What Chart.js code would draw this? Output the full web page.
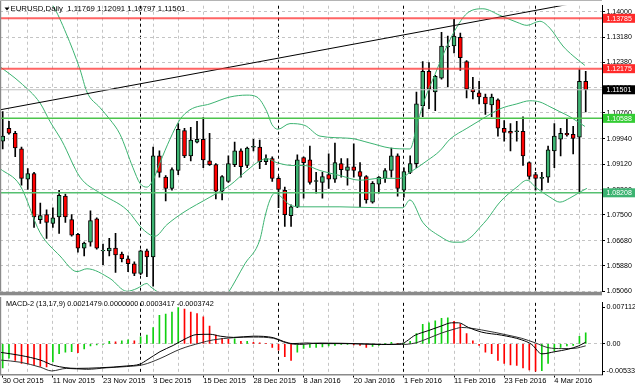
<!DOCTYPE html>
<html>
<head>
<meta charset="utf-8">
<script src="https://cdn.jsdelivr.net/npm/chart.js@4.4.1/dist/chart.umd.min.js"></script>
<style>
  html, body { margin: 0; padding: 0; background: #fff; }
  #wrap { position: relative; width: 635px; height: 391px; overflow: hidden; background: #fff; }
  #priceChart { position: absolute; left: 0; top: 0; }
  #macdChart { position: absolute; left: 0; top: 297px; }
</style>
</head>
<body>
<div id="wrap">
  <canvas id="priceChart" width="635" height="297"></canvas>
  <canvas id="macdChart" width="635" height="94"></canvas>
</div>
<script>
// EURUSD daily, 30 Oct 2015 .. 11 Mar 2016 (bar index 0..93)
const opens = [
  1.0986, 1.1027, 1.1011, 1.0961, 1.0864, 1.0882, 1.0735, 1.0751, 1.0723, 1.0744,
  1.0810, 1.0735, 1.0688, 1.0644, 1.0663, 1.0738, 1.0635, 1.0635, 1.0644, 1.0625,
  1.0610, 1.0594, 1.0563, 1.0635, 1.0616, 1.0939, 1.0871, 1.0835, 1.0892, 1.1020,
  1.0939, 1.0983, 1.0992, 1.0923, 1.0911, 1.0826, 1.0857, 1.0911, 1.0955, 1.0908,
  1.0967, 1.0967, 1.0920, 1.0930, 1.0867, 1.0829, 1.0748, 1.0776, 1.0933, 1.0926,
  1.0857, 1.0854, 1.0879, 1.0864, 1.0914, 1.0892, 1.0904, 1.0889, 1.0873, 1.0791,
  1.0848, 1.0867, 1.0892, 1.0939, 1.0829, 1.0886, 1.0914, 1.1099, 1.1209, 1.1143,
  1.1187, 1.1287, 1.1290, 1.1318, 1.1240, 1.1152, 1.1140, 1.1127, 1.1102, 1.1118,
  1.1027, 1.1017, 1.1016, 1.1017, 1.0917, 1.0879, 1.0867, 1.0871, 1.0955, 1.0992,
  1.1011, 1.1008, 1.0999, 1.11769
];
const highs = [
  1.1080, 1.1049, 1.1017, 1.0967, 1.0898, 1.0886, 1.0788, 1.0766, 1.0773, 1.0829,
  1.0817, 1.0751, 1.0691, 1.0663, 1.0763, 1.0741, 1.0657, 1.0675, 1.0691, 1.0631,
  1.0619, 1.0600, 1.0638, 1.0641, 1.0967, 1.0955, 1.0876, 1.0901, 1.1042, 1.1027,
  1.1030, 1.1049, 1.1061, 1.1011, 1.0914, 1.0876, 1.0939, 1.0983, 1.0961, 1.0967,
  1.0992, 1.0989, 1.0942, 1.0936, 1.0873, 1.0839, 1.0782, 1.0942, 1.0936, 1.0970,
  1.0886, 1.0886, 1.0945, 1.0980, 1.0930, 1.0930, 1.0977, 1.0917, 1.0876, 1.0857,
  1.0873, 1.0898, 1.0964, 1.0945, 1.0901, 1.0939, 1.1143, 1.1240, 1.1237, 1.1196,
  1.1334, 1.1322, 1.1375, 1.1331, 1.1243, 1.1190, 1.1177, 1.1136, 1.1136, 1.1121,
  1.1052, 1.1042, 1.1049, 1.1064, 1.0920, 1.0886, 1.0886, 1.0970, 1.1042, 1.1027,
  1.1058, 1.1033, 1.1215, 1.12091
];
const lows = [
  1.0961, 1.1008, 1.0936, 1.0845, 1.0832, 1.0710, 1.0723, 1.0675, 1.0710, 1.0691,
  1.0726, 1.0682, 1.0631, 1.0619, 1.0650, 1.0641, 1.0591, 1.0619, 1.0566, 1.0600,
  1.0569, 1.0556, 1.0559, 1.0553, 1.0522, 1.0871, 1.0795, 1.0829, 1.0879, 1.0933,
  1.0923, 1.0980, 1.0901, 1.0908, 1.0801, 1.0798, 1.0854, 1.0904, 1.0871, 1.0901,
  1.0955, 1.0898, 1.0911, 1.0857, 1.0773, 1.0713, 1.0713, 1.0773, 1.0804, 1.0848,
  1.0820, 1.0804, 1.0835, 1.0854, 1.0871, 1.0845, 1.0871, 1.0776, 1.0788, 1.0788,
  1.0820, 1.0854, 1.0871, 1.0810, 1.0807, 1.0882, 1.0901, 1.1064, 1.1090, 1.1083,
  1.1184, 1.1159, 1.1268, 1.1212, 1.1124, 1.1121, 1.1105, 1.1071, 1.1064, 1.1002,
  1.0986, 1.0955, 1.0986, 1.0908, 1.0864, 1.0829, 1.0829, 1.0854, 1.0901, 1.0939,
  1.1002, 1.0945, 1.0820, 1.10797
];
const closes = [
  1.1002, 1.1011, 1.0964, 1.0867, 1.0882, 1.0744, 1.0748, 1.0726, 1.0741, 1.0813,
  1.0744, 1.0685, 1.0644, 1.0660, 1.0732, 1.0644, 1.0637, 1.0644, 1.0622, 1.0610,
  1.0594, 1.0563, 1.0635, 1.0616, 1.0939, 1.0886, 1.0835, 1.0895, 1.1024, 1.0939,
  1.0989, 1.0992, 1.0926, 1.0911, 1.0826, 1.0873, 1.0914, 1.0955, 1.0904, 1.0964,
  1.0969, 1.0920, 1.0930, 1.0867, 1.0832, 1.0751, 1.0776, 1.0926, 1.0917, 1.0854,
  1.0860, 1.0873, 1.0864, 1.0917, 1.0895, 1.0904, 1.0892, 1.0873, 1.0798, 1.0851,
  1.0871, 1.0892, 1.0939, 1.0835, 1.0889, 1.0914, 1.1105, 1.1209, 1.1152, 1.1193,
  1.1290, 1.1290, 1.1322, 1.1253, 1.1152, 1.1143, 1.1127, 1.1105, 1.1127, 1.1027,
  1.1014, 1.1011, 1.1019, 1.0939, 1.0873, 1.0867, 1.0870, 1.0958, 1.1002, 1.1011,
  1.1006, 1.0995, 1.1177, 1.11501
];

// Bollinger bands, read at the bar positions where the curves could be traced
const upperBars = [-0.43, 4.04, 8.02, 10.1, 12.33, 13.44, 15.52, 17.11, 18.71, 20.78, 21.9, 23.01, 23.97, 25.09, 26.68, 28.28, 29.87, 33.06, 36.25, 38.96, 40.56, 42.15, 42.95, 43.91, 45.82, 48.21, 50.61, 55.39, 58.58, 61.77, 64.96, 66.24, 67.35, 68.95, 70.54, 72.14, 74.05, 76.6, 79.31, 82.02, 83.62, 85.69, 87.29, 89.36, 90.96, 92.87];
const upperBand = [1.1582, 1.1504, 1.1419, 1.1331, 1.1215, 1.1143, 1.1093, 1.1055, 1.1008, 1.0901, 1.0851, 1.0839, 1.0861, 1.0917, 1.0992, 1.1055, 1.1086, 1.1105, 1.1127, 1.1133, 1.1127, 1.1080, 1.1039, 1.1024, 1.1042, 1.1036, 1.1002, 1.0995, 1.0980, 1.0964, 1.0961, 1.1049, 1.1121, 1.1199, 1.1275, 1.1340, 1.1394, 1.1409, 1.1388, 1.1366, 1.1356, 1.1369, 1.1347, 1.1290, 1.1259, 1.1228];
const middleBars = [-0.43, 2.76, 5.95, 7.54, 9.46, 12.33, 15.52, 19.82, 22.38, 24.29, 26.2, 28.75, 33.06, 36.25, 38.96, 41.04, 42.15, 43.75, 46.3, 48.21, 50.61, 53.8, 56.99, 60.18, 63.37, 64.96, 67.67, 69.74, 71.34, 74.05, 76.6, 79.31, 82.02, 84.1, 85.69, 87.29, 88.88, 90.48, 92.87];
const middleBand = [1.1224, 1.1174, 1.1108, 1.1049, 1.0986, 1.0871, 1.0820, 1.0766, 1.0704, 1.0682, 1.0719, 1.0757, 1.0807, 1.0845, 1.0892, 1.0923, 1.0930, 1.0917, 1.0908, 1.0908, 1.0892, 1.0876, 1.0861, 1.0867, 1.0867, 1.0886, 1.0923, 1.0955, 1.0992, 1.1027, 1.1058, 1.1089, 1.1105, 1.1115, 1.1111, 1.1096, 1.1080, 1.1064, 1.1033];
const lowerBars = [-0.43, 2.76, 5.95, 9.14, 11.85, 13.44, 17.11, 19.82, 21.42, 23.01, 23.49, 26.2, 29.87, 33.06, 35.93, 38.64, 41.04, 41.83, 42.63, 43.43, 45.82, 47.42, 53.8, 60.18, 63.84, 64.96, 67.03, 69.74, 71.82, 73.25, 74.85, 76.12, 77.24, 79.31, 82.02, 83.62, 85.22, 87.29, 88.88, 90.48, 92.08, 93.19];
const lowerBand = [1.0898, 1.0845, 1.0694, 1.0619, 1.0569, 1.0578, 1.0547, 1.0506, 1.0515, 1.0531, 1.0522, 1.0484, 1.0428, 1.0428, 1.0500, 1.0594, 1.0672, 1.0744, 1.0798, 1.0820, 1.0782, 1.0776, 1.0776, 1.0773, 1.0773, 1.0798, 1.0726, 1.0682, 1.0663, 1.0663, 1.0682, 1.0710, 1.0735, 1.0791, 1.0839, 1.0861, 1.0835, 1.0807, 1.0791, 1.0804, 1.0823, 1.0835];

// horizontal levels and trend line
const levelValues = [1.13785, 1.12175, 1.11501, 1.10588, 1.08208];
const trendBars = [-0.43, 95];
const trendPrices = [1.1086, 1.1441];

// MACD-2 (13,17,9)
const macdHist = [
  -0.0047, -0.0028, -0.0032, -0.0038, -0.0039, -0.0041, -0.0044, -0.0045, -0.0035, -0.0019,
  -0.0016, -0.0015, -0.0017, -0.0010, -0.0004, -0.0002, -0.0001, 0.0005, 0.0004, 0.0006,
  0.0008, 0.0006, 0.0014, 0.0017, 0.0032, 0.0056, 0.0058, 0.0062, 0.007112, 0.0068,
  0.0062, 0.0059, 0.0053, 0.0035, 0.0017, 0.0011, 0.0009, 0.0010, 0.0005, 0.0005,
  0.0003, 0.0002, 0.0001, -0.0007, -0.0012, -0.0025, -0.0032, -0.0016, -0.0009, -0.0007,
  -0.0007, -0.0006, -0.0004, -0.0003, -0.0001, -0.0001, -0.0002, -0.0003, -0.0007, -0.0005,
  -0.0003, 0.0001, 0.0003, 0.0001, 0.0001, 0.0005, 0.0020, 0.0038, 0.0041, 0.0045,
  0.0050, 0.0051, 0.0044, 0.0038, 0.0020, 0.0006, -0.0003, -0.0016, -0.0019, -0.0032,
  -0.0038, -0.0041, -0.0042, -0.0047, -0.0051, -0.005334, -0.0052, -0.0038, -0.0013, -0.0007,
  -0.0004, -0.0003, 0.0015, 0.0021479
];
const macdBars = [-0.4, 2.8, 6.0, 8.1, 11.8, 15.5, 19.8, 21.9, 23.0, 25.1, 27.2, 29.3, 30.9, 33.1, 34.7, 36.8, 40.0, 43.2, 44.8, 46.3, 48.5, 50.6, 55.1, 60.4, 63.6, 65.8, 67.9, 70.0, 71.6, 72.7, 74.3, 76.4, 79.6, 82.8, 84.4, 86.0, 88.1, 90.2, 91.8, 93];
const macdMain = [-0.00164, -0.00224, -0.00315, -0.00418, -0.00478, -0.00466, -0.00430, -0.00394, -0.00315, -0.00151, -0.00030, 0.00109, 0.00182, 0.00188, 0.00151, 0.00127, 0.00151, 0.00121, 0.00048, 0.00006, 0.00018, 0.00006, 0.00006, -0.00012, 0.00006, 0.00170, 0.00260, 0.00351, 0.00412, 0.00412, 0.00321, 0.00230, 0.00170, 0.00079, -0.00012, -0.00194, -0.00151, -0.00103, -0.00042, 0.0003417];
const signalBars = [-0.4, 2.8, 6.0, 7.8, 10.2, 13.4, 16.6, 19.8, 22.4, 25.1, 28.3, 31.5, 33.6, 36.8, 40.0, 43.2, 45.3, 47.4, 50.6, 63.6, 65.8, 67.9, 70.0, 72.1, 73.2, 76.4, 80.6, 82.8, 85.0, 87.0, 89.2, 91.3, 93];
const macdSignal = [-0.00315, -0.00357, -0.00454, -0.00527, -0.00478, -0.00497, -0.00466, -0.00442, -0.00406, -0.00285, -0.00103, 0.00018, 0.00079, 0.00121, 0.00133, 0.00109, 0.00018, -0.00012, 0.00018, -0.00012, 0.00018, 0.00109, 0.00212, 0.00291, 0.00321, 0.00273, 0.00170, 0.00109, 0.00018, -0.00073, -0.00091, -0.00085, -0.0003742];

// axes
const priceTicks = [1.14, 1.1318, 1.1238, 1.1156, 1.1076, 1.0994, 1.0912, 1.083, 1.075, 1.0668, 1.0588, 1.0506];
const macdTicks = [0.007112, 0, -0.005334];
const labelBars = [0, 8, 16, 24, 32, 40, 48, 56, 64, 72, 80, 88];
const dateLabels = ['30 Oct 2015', '11 Nov 2015', '23 Nov 2015', '3 Dec 2015', '15 Dec 2015', '28 Dec 2015',
  '8 Jan 2016', '20 Jan 2016', '1 Feb 2016', '11 Feb 2016', '23 Feb 2016', '4 Mar 2016'];
const gridBars = [1, 4, 8, 12, 16, 20, 24, 28, 32, 36, 40, 44, 48, 52, 56, 60, 64, 68, 72, 76, 80, 84, 88, 92];
const monthBars = [22, 44, 64, 85];

const fam = "'Liberation Sans', Arial, sans-serif";
const xMin = -0.43, xMax = 95.6;
const gridGray = '#c4c4c4';
const bandColor = '#3cb371';
const upColor = '#3cb371', downColor = '#ff0000';
const levelLineColors = ['rgba(255,50,50,0.75)', 'rgba(255,50,50,0.75)', '#c0c0c0', '#4cc44c', '#55c070'];
const levelLineWidths = [2, 2, 1, 1.5, 1.5];
const levelBoxColors = ['#ff2a2a', '#ff2a2a', '#000000', '#33cc33', '#3cb371'];

const idx = opens.map((_, i) => i);
const last = opens.length - 1;
const titleText = 'EURUSD,Daily  ' + [opens[last], highs[last], lows[last], closes[last]].map(v => v.toFixed(5)).join(' ');
const macdText = 'MACD-2 (13,17,9) ' + macdHist[last].toFixed(7) + ' 0.0000000 ' +
  macdMain[macdMain.length - 1].toFixed(7) + ' ' + macdSignal[macdSignal.length - 1].toFixed(7);

const allXTicks = [...new Set([...gridBars, ...monthBars, ...labelBars])].sort((a, b) => a - b);

function pts(xs, ys) { return xs.map((x, i) => ({ x: x, y: ys[i] })); }

function xGridColor(c) {
  const v = c.tick ? c.tick.value : null;
  if (monthBars.includes(v)) return '#000';
  if (gridBars.includes(v)) return gridGray;
  return 'rgba(0,0,0,0)';
}

function bandSet(xs, ys) {
  return { type: 'line', data: pts(xs, ys), borderColor: bandColor, borderWidth: 1, pointRadius: 0,
    cubicInterpolationMode: 'monotone', order: 3 };
}

const priceOverlay = {
  id: 'priceOverlay',
  afterDraw(chart) {
    const { ctx, chartArea: a, scales: { y } } = chart;
    ctx.save();
    ctx.fillStyle = '#8a8a8a';
    ctx.fillRect(0, a.bottom + 0.5, a.right, 3.5);
    ctx.fillRect(0, 0, 1.2, a.bottom);
    ctx.fillStyle = '#b4b4b4';
    ctx.fillRect(0, 0, a.right, 1);

    ctx.font = '7px ' + fam;
    ctx.textBaseline = 'middle';
    ctx.textAlign = 'left';
    levelValues.forEach((v, i) => {
      const py = y.getPixelForValue(v);
      ctx.fillStyle = levelBoxColors[i];
      ctx.fillRect(a.right + 1, py - 4.5, 40, 9);
      ctx.fillStyle = '#fff';
      ctx.fillText(v.toFixed(5), a.right + 4.5, py + 0.5);
    });

    ctx.fillStyle = '#000';
    ctx.beginPath();
    ctx.moveTo(4.5, 7.5); ctx.lineTo(9.5, 7.5); ctx.lineTo(7, 10.5); ctx.closePath();
    ctx.fill();
    ctx.font = '7.8px ' + fam;
    ctx.fillText(titleText, 10.5, 8.5);
    ctx.restore();
  }
};

const macdOverlay = {
  id: 'macdOverlay',
  afterDraw(chart) {
    const { ctx, chartArea: a } = chart;
    ctx.save();
    ctx.fillStyle = '#8a8a8a';
    ctx.fillRect(0, 0, 1.2, a.bottom);
    ctx.fillStyle = '#000';
    ctx.font = '7.3px ' + fam;
    ctx.textBaseline = 'middle';
    ctx.fillText(macdText, 6, 7);
    ctx.restore();
  }
};

new Chart(document.getElementById('priceChart'), {
  type: 'bar',
  data: {
    datasets: [
      bandSet(upperBars, upperBand),
      bandSet(middleBars, middleBand),
      bandSet(lowerBars, lowerBand),
      ...levelValues.map((v, i) => ({
        type: 'line', data: [{ x: xMin, y: v }, { x: xMax, y: v }],
        borderColor: levelLineColors[i], borderWidth: levelLineWidths[i], pointRadius: 0, order: 1
      })),
      { type: 'line', data: pts(trendBars, trendPrices), borderColor: '#000', borderWidth: 1,
        pointRadius: 0, order: 1 },
      { type: 'bar', data: idx.map(i => ({ x: i, y: [lows[i], highs[i]] })), backgroundColor: '#000',
        barThickness: 1, grouped: false, order: 5 },
      { type: 'bar', data: idx.map(i => ({ x: i, y: [opens[i], closes[i]] })),
        backgroundColor: idx.map(i => closes[i] >= opens[i] ? upColor : downColor),
        borderColor: '#000', borderWidth: 1, borderSkipped: false, barThickness: 4,
        grouped: false, order: 4 }
    ]
  },
  options: {
    responsive: false,
    animation: false,
    events: [],
    layout: { padding: { left: 0, top: 2, right: 0, bottom: 4 } },
    plugins: { legend: { display: false }, tooltip: { enabled: false } },
    scales: {
      x: {
        type: 'linear', min: xMin, max: xMax, offset: false,
        afterBuildTicks: s => { s.ticks = allXTicks.map(v => ({ value: v })); },
        afterFit: s => { s.height = 0; },
        ticks: { display: false },
        grid: { offset: false, color: xGridColor, drawTicks: false },
        border: { display: false, dash: [3, 3] }
      },
      y: {
        position: 'right', min: 1.0506, max: 1.14188, beginAtZero: false,
        afterBuildTicks: s => { s.ticks = priceTicks.map(v => ({ value: v })); },
        afterFit: s => { s.width = 33; },
        ticks: { autoSkip: false, color: '#000', padding: 1.5, font: { family: fam, size: 7 },
          callback: v => Number(v).toFixed(5) },
        grid: { color: gridGray, tickColor: '#000', tickLength: 3, tickBorderDash: [] },
        border: { color: '#000', dash: [3, 3] }
      }
    }
  },
  plugins: [priceOverlay]
});

new Chart(document.getElementById('macdChart'), {
  type: 'bar',
  data: {
    datasets: [
      { type: 'bar', data: idx.map(i => ({ x: i, y: macdHist[i] })),
        backgroundColor: idx.map(i => (i === 0 || macdHist[i] >= macdHist[i - 1]) ? '#10d010' : '#ff0000'),
        barThickness: 1, grouped: false, order: 2 },
      { type: 'line', data: pts(macdBars, macdMain), borderColor: '#000', borderWidth: 1,
        pointRadius: 0, cubicInterpolationMode: 'monotone', order: 1 },
      { type: 'line', data: pts(signalBars, macdSignal), borderColor: '#303030', borderWidth: 1,
        pointRadius: 0, cubicInterpolationMode: 'monotone', order: 1 }
    ]
  },
  options: {
    responsive: false,
    animation: false,
    events: [],
    layout: { padding: { left: 0, top: 0, right: 0, bottom: 0 } },
    plugins: { legend: { display: false }, tooltip: { enabled: false } },
    scales: {
      x: {
        type: 'linear', min: xMin, max: xMax, offset: false,
        afterBuildTicks: s => { s.ticks = allXTicks.map(v => ({ value: v })); },
        afterFit: s => { s.height = 16.5; },
        ticks: {
          autoSkip: false, maxRotation: 0, minRotation: 0, align: 'start', padding: 0, color: '#000',
          font: { family: fam, size: 7.5, lineHeight: 1 },
          callback: v => { const k = labelBars.indexOf(v); return k >= 0 ? dateLabels[k] : ''; }
        },
        grid: { offset: false, color: xGridColor, tickLength: 3, tickBorderDash: [],
          tickColor: c => labelBars.includes(c.tick && c.tick.value) ? '#000' : 'rgba(0,0,0,0)' },
        border: { display: true, color: '#8a8a8a', width: 1.5, dash: [3, 3] }
      },
      y: {
        position: 'right', min: -0.00597, max: 0.00802, beginAtZero: false,
        afterBuildTicks: s => { s.ticks = macdTicks.map(v => ({ value: v })); },
        afterFit: s => { s.width = 33; },
        ticks: { autoSkip: false, color: '#000', padding: 1.5, font: { family: fam, size: 7.2 },
          callback: v => v === 0 ? '0.00' : Number(v).toFixed(6) },
        grid: { color: c => (c.tick && c.tick.value === 0) ? gridGray : 'rgba(0,0,0,0)',
          tickColor: '#000', tickLength: 3, tickBorderDash: [] },
        border: { color: '#000', dash: [3, 3] }
      }
    }
  },
  plugins: [macdOverlay]
});
</script>
</body>
</html>
